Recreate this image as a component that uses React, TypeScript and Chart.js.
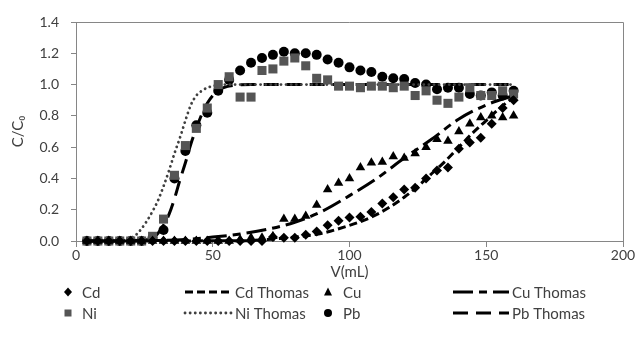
import React, { useEffect, useRef } from 'react';
import { Chart, registerables } from 'chart.js';

Chart.register(...registerables);

// Measured volumes (mL)
const V = [4, 8, 12, 16, 20, 24, 28, 32, 36, 40, 44, 48, 52, 56, 60, 64, 68, 72, 76, 80,
  84, 88, 92, 96, 100, 104, 108, 112, 116, 120, 124, 128, 132, 136, 140, 144, 148, 152, 156, 160];

const cd = [0, 0, 0, 0, 0, 0, 0, 0, 0, 0, 0, 0, 0, 0, 0, 0, 0, 0.025, 0.02, 0.02,
  0.04, 0.06, 0.10, 0.13, 0.15, 0.155, 0.185, 0.24, 0.28, 0.33, 0.34, 0.40, 0.45, 0.47, 0.59, 0.63, 0.66, 0.75, 0.85, 0.90];
const cu = [0, 0, 0, 0, 0, 0, 0, 0, 0, 0, 0, 0, 0, 0, 0.01, 0.02, 0.02, 0.03, 0.14, 0.14,
  0.16, 0.23, 0.33, 0.37, 0.40, 0.47, 0.50, 0.505, 0.54, 0.53, 0.56, 0.60, 0.65, 0.64, 0.70, 0.75, 0.79, 0.80, 0.79, 0.80];
const ni = [0, 0, 0, 0, 0, 0, 0.03, 0.14, 0.42, 0.61, 0.72, 0.85, 1.00, 1.05, 0.92, 0.92, 1.09, 1.10, 1.15, 1.17,
  1.12, 1.04, 1.03, 0.99, 0.99, 0.98, 0.99, 0.99, 0.98, 0.99, 0.93, 0.96, 0.90, 0.88, 0.92, 0.98, 0.93, 0.93, 0.96, 0.94];
const pb = [0, 0, 0, 0, 0, 0, 0.02, 0.07, 0.40, 0.575, 0.74, 0.82, 0.96, 1.03, 1.09, 1.14, 1.17, 1.19, 1.21, 1.20,
  1.20, 1.19, 1.16, 1.14, 1.11, 1.09, 1.08, 1.05, 1.04, 1.035, 1.01, 1.00, 0.97, 0.98, 0.98, 0.94, 0.93, 0.95, 0.93, 0.96];

// Thomas model curves
const cdThomasV = [4, 60, 70, 80, 90, 100, 105, 110, 115, 120, 125, 130, 135, 140, 145, 150, 155, 160];
const cdThomasY = [0, 0.002, 0.01, 0.025, 0.05, 0.10, 0.13, 0.17, 0.22, 0.28, 0.35, 0.43, 0.51, 0.60, 0.69, 0.77, 0.85, 0.92];
const cuThomasV = [4, 30, 40, 50, 60, 70, 80, 90, 100, 110, 120, 130, 140, 150, 160];
const cuThomasY = [0, 0.003, 0.01, 0.025, 0.045, 0.075, 0.12, 0.19, 0.29, 0.40, 0.53, 0.65, 0.78, 0.87, 0.93];
const niThomasV = [4, 16, 20, 22, 24, 26, 28, 30, 32, 34, 36, 38, 40, 42, 44, 46, 48, 50, 54, 60, 160];
const niThomasY = [0, 0.005, 0.02, 0.04, 0.08, 0.13, 0.19, 0.26, 0.35, 0.45, 0.56, 0.66, 0.77, 0.87, 0.93, 0.96, 0.98, 0.99, 1.0, 1.0, 1.0];
const pbThomasV = [4, 24, 28, 30, 32, 34, 36, 38, 40, 42, 44, 46, 48, 50, 52, 54, 58, 64, 160];
const pbThomasY = [0, 0.005, 0.02, 0.05, 0.10, 0.17, 0.27, 0.39, 0.50, 0.62, 0.72, 0.81, 0.88, 0.93, 0.96, 0.98, 0.995, 1.0, 1.0];

const xTicks = [0, 50, 100, 150, 200];
const yTicks = [0, 0.2, 0.4, 0.6, 0.8, 1.0, 1.2, 1.4];

const pts = (xs: number[], ys: number[]) => xs.map((x, i) => ({ x, y: ys[i] }));

const FONT = 'Lato, "Liberation Sans", sans-serif';
const TEXT = '#404040';
const AXIS = '#868686';

function drawMarker(ctx: CanvasRenderingContext2D, style: string, x: number, y: number, color: string) {
  ctx.save();
  ctx.fillStyle = color;
  ctx.beginPath();
  if (style === 'circle') {
    ctx.arc(x, y, 4, 0, Math.PI * 2);
  } else if (style === 'rect') {
    ctx.rect(x - 3.5, y - 3.5, 7, 7);
  } else if (style === 'rectRot') {
    ctx.moveTo(x, y - 4.5); ctx.lineTo(x + 4, y); ctx.lineTo(x, y + 4.5); ctx.lineTo(x - 4, y);
  } else if (style === 'triangle') {
    ctx.moveTo(x, y - 4.5); ctx.lineTo(x + 4, y + 3.5); ctx.lineTo(x - 4, y + 3.5);
  }
  ctx.closePath();
  ctx.fill();
  ctx.restore();
}

const legendPlugin = {
  id: 'gridLegend',
  afterDraw(chart: any) {
    const ctx = chart.ctx as CanvasRenderingContext2D;
    const ds = chart.data.datasets;
    const rowsY = [292, 313];
    const markerX = [68, 0, 328, 0];
    const lineX = [[0, 0], [185, 232], [0, 0], [453, 509]];
    const textX = [82, 235, 343, 512];
    ctx.save();
    ctx.font = `15px ${FONT}`;
    ctx.textBaseline = 'middle';
    ds.forEach((d: any, k: number) => {
      const col = k % 4;
      const row = Math.floor(k / 4);
      const y = rowsY[row];
      if (d.showLine) {
        ctx.save();
        ctx.strokeStyle = d.borderColor;
        ctx.lineWidth = d.borderWidth;
        ctx.lineCap = d.borderCapStyle || 'butt';
        ctx.setLineDash(d.borderDash || []);
        ctx.beginPath();
        ctx.moveTo(lineX[col][0], y);
        ctx.lineTo(lineX[col][1], y);
        ctx.stroke();
        ctx.restore();
      } else {
        drawMarker(ctx, d.pointStyle, markerX[col], y, d.backgroundColor);
      }
      ctx.fillStyle = TEXT;
      ctx.fillText(d.label, textX[col], y + 1);
    });
    ctx.restore();
  },
};

const framePlugin = {
  id: 'frame',
  beforeDatasetsDraw(chart: any) {
    const { ctx, chartArea } = chart;
    ctx.save();
    ctx.strokeStyle = AXIS;
    ctx.lineWidth = 1;
    ctx.beginPath();
    ctx.moveTo(chartArea.left, chartArea.top + 0.5);
    ctx.lineTo(chartArea.right + 0.5, chartArea.top + 0.5);
    ctx.lineTo(chartArea.right + 0.5, chartArea.bottom);
    ctx.stroke();
    ctx.restore();
  },
};

export default function App() {
  const ref = useRef<HTMLCanvasElement>(null);

  useEffect(() => {
    if (!ref.current) return;
    const markerDs = (label: string, ys: number[], style: string, color: string, r: number) => ({
      label,
      data: pts(V, ys),
      showLine: false,
      pointStyle: style,
      pointRadius: r,
      pointBackgroundColor: color,
      pointBorderColor: color,
      pointBorderWidth: 0,
      backgroundColor: color,
      borderColor: color,
      clip: false,
    });
    const lineDs = (label: string, xs: number[], ys: number[], dash: number[], color: string, width: number, cap = 'butt') => ({
      label,
      data: pts(xs, ys),
      showLine: true,
      pointRadius: 0,
      borderColor: color,
      backgroundColor: color,
      borderWidth: width,
      borderDash: dash,
      borderCapStyle: cap,
      cubicInterpolationMode: 'monotone',
      fill: false,
      clip: false,
    });

    const chart = new Chart(ref.current, {
      type: 'scatter',
      data: {
        datasets: [
          markerDs('Cd', cd, 'rectRot', '#000000', 5),
          lineDs('Cd Thomas', cdThomasV, cdThomasY, [8, 4], '#000000', 3),
          markerDs('Cu', cu, 'triangle', '#000000', 5.5),
          lineDs('Cu Thomas', cuThomasV, cuThomasY, [20, 6, 8, 6], '#000000', 3),
          markerDs('Ni', ni, 'rect', '#555555', 6.4),
          lineDs('Ni Thomas', niThomasV, niThomasY, [0.1, 5], '#404040', 2.8, 'round'),
          markerDs('Pb', pb, 'circle', '#000000', 5),
          lineDs('Pb Thomas', pbThomasV, pbThomasY, [15, 8], '#000000', 3),
        ] as any,
      },
      options: {
        animation: false,
        responsive: false,
        devicePixelRatio: 1,
        layout: { padding: { top: 22, right: 15, bottom: 70, left: 0 } },
        plugins: { legend: { display: false }, tooltip: { enabled: false } },
        scales: {
          x: {
            type: 'linear',
            min: 0,
            max: 200,
            afterBuildTicks: (s: any) => { s.ticks = xTicks.map((value) => ({ value })); },
            afterFit: (s: any) => { s.height = 40; },
            ticks: { font: { family: FONT, size: 14 }, color: TEXT, padding: 0, maxRotation: 0 },
            grid: { display: true, drawOnChartArea: false, drawTicks: true, tickLength: 6, color: AXIS },
            border: { display: true, color: AXIS, width: 1 },
            title: { display: true, text: 'V(mL)', font: { family: FONT, size: 15 }, color: TEXT, padding: { top: 0, bottom: 0 } },
          },
          y: {
            type: 'linear',
            min: 0,
            max: 1.4,
            afterBuildTicks: (s: any) => { s.ticks = yTicks.map((value) => ({ value })); },
            afterFit: (s: any) => { s.width = 76; },
            ticks: { font: { family: FONT, size: 14 }, color: TEXT, padding: 12, callback: (v: any) => Number(v).toFixed(1) },
            grid: { display: true, drawOnChartArea: false, drawTicks: true, tickLength: 5, color: AXIS },
            border: { display: true, color: AXIS, width: 1 },
            title: { display: true, text: 'C/C₀', font: { family: FONT, size: 15 }, color: TEXT, padding: { top: 9, bottom: 0 } },
          },
        },
      } as any,
      plugins: [framePlugin, legendPlugin],
    });
    return () => chart.destroy();
  }, []);

  return (
    <div style={{ position: 'fixed', left: 0, top: 0, width: 638, height: 351, background: '#fff' }}>
      <canvas ref={ref} width={638} height={351} style={{ width: 638, height: 351, display: 'block' }} />
    </div>
  );
}
